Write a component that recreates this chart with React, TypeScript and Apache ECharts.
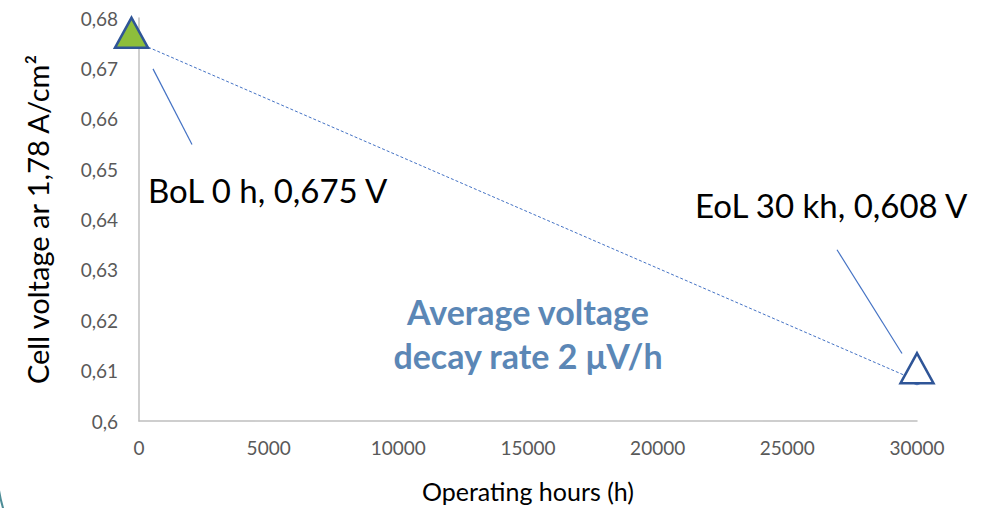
import React, { useEffect, useRef } from "react";
import * as echarts from "echarts";

// ---- data ----
const hours = [0, 30000];
const voltage = [0.675, 0.608];
const pointLabels = ["BoL 0 h, 0,675 V", "EoL 30 kh, 0,608 V"];
const yTicks = [0.6, 0.61, 0.62, 0.63, 0.64, 0.65, 0.66, 0.67, 0.68];
const xTicks = [0, 5000, 10000, 15000, 20000, 25000, 30000];
const noteLines = ["Average voltage", "decay rate 2 μV/h"];
// leader lines, in data units [hours, volts]
const bolLeader = [[540, 0.6699], [2044, 0.6549]];
const eolLeader = [[26915, 0.634], [29422, 0.6134]];

const FONT = "Lato, 'Noto Sans', sans-serif";

export default function App() {
  const ref = useRef<HTMLDivElement>(null);
  useEffect(() => {
    if (!ref.current) return;
    const chart = echarts.init(ref.current, undefined, { renderer: "svg" });
    const pts = hours.map((h, i) => [h, voltage[i]]);
    chart.setOption({
      animation: false,
      backgroundColor: "#ffffff",
      grid: { left: 139, right: 78, top: 18, bottom: 85, containLabel: false },
      xAxis: {
        type: "value",
        min: xTicks[0],
        max: xTicks[xTicks.length - 1],
        interval: 5000,
        name: "Operating hours (h)",
        nameLocation: "middle",
        nameGap: 57,
        nameTextStyle: { fontFamily: FONT, fontSize: 25, color: "#000000", verticalAlign: "top" },
        axisLine: { show: true, lineStyle: { color: "#BFBFBF", width: 1.5 } },
        axisTick: { show: false },
        splitLine: { show: false },
        axisLabel: {
          margin: 17,
          fontFamily: FONT,
          fontSize: 19,
          color: "#595959",
          formatter: (v: number) => String(v),
        },
      },
      yAxis: {
        type: "value",
        min: yTicks[0],
        max: yTicks[yTicks.length - 1],
        interval: 0.01,
        name: "Cell voltage ar 1,78 A/cm²",
        nameLocation: "middle",
        nameGap: 87,
        nameTextStyle: { fontFamily: FONT, fontSize: 29, color: "#000000" },
        axisLine: { show: true, lineStyle: { color: "#BFBFBF", width: 1.5 } },
        axisTick: { show: false },
        splitLine: { show: false },
        axisLabel: {
          margin: 21,
          fontFamily: FONT,
          fontSize: 19,
          color: "#595959",
          formatter: (v: number) => String(Math.round(v * 100) / 100).replace(".", ","),
        },
      },
      series: [
        {
          type: "line",
          data: pts,
          symbol: "none",
          lineStyle: { color: "#4472C4", width: 1, type: [3, 2] },
          z: 2,
          markLine: {
            silent: true,
            symbol: "none",
            label: { show: false },
            lineStyle: { color: "#4472C4", width: 1.2, type: "solid" },
            data: [
              [{ coord: bolLeader[0] }, { coord: bolLeader[1] }],
              [{ coord: eolLeader[0] }, { coord: eolLeader[1] }],
            ],
          },
        },
        {
          type: "scatter",
          data: pts,
          symbol: "circle",
          symbolSize: 9,
          itemStyle: { color: "#4472C4" },
          z: 3,
        },
        {
          type: "scatter",
          symbol: "triangle",
          symbolSize: [33, 30],
          z: 6,
          data: [
            {
              value: pts[0],
              symbolOffset: [-7.5, -10.5],
              itemStyle: { color: "#8DBE3C", borderColor: "#2F5597", borderWidth: 2.5, opacity: 1 },
            },
            {
              value: pts[1],
              symbolOffset: [0, -12.5],
              itemStyle: { color: "#FFFFFF", borderColor: "#2F5597", borderWidth: 2.5, opacity: 1 },
            },
          ],
        },
      ],
      graphic: [
        {
          type: "text",
          x: 148,
          y: 190,
          style: { text: pointLabels[0], font: `33px ${FONT}`, fill: "#000000", verticalAlign: "middle" },
        },
        {
          type: "text",
          x: 695,
          y: 205,
          style: { text: pointLabels[1], font: `33px ${FONT}`, fill: "#000000", verticalAlign: "middle" },
        },
        {
          type: "text",
          x: 528,
          y: 311,
          style: { text: noteLines[0], font: `bold 34px ${FONT}`, fill: "#5B87B6", align: "center", verticalAlign: "middle" },
        },
        {
          type: "text",
          x: 528,
          y: 355,
          style: { text: noteLines[1], font: `bold 34px ${FONT}`, fill: "#5B87B6", align: "center", verticalAlign: "middle" },
        },
        {
          type: "arc",
          shape: { cx: 147, cy: 466, r: 150, startAngle: 2.75, endAngle: 3.0 },
          style: { stroke: "#4E8D97", lineWidth: 2, fill: "none" },
        },
      ],
    });
    return () => chart.dispose();
  }, []);
  return <div ref={ref} style={{ position: "fixed", left: 0, top: 0, width: 995, height: 508 }} />;
}
